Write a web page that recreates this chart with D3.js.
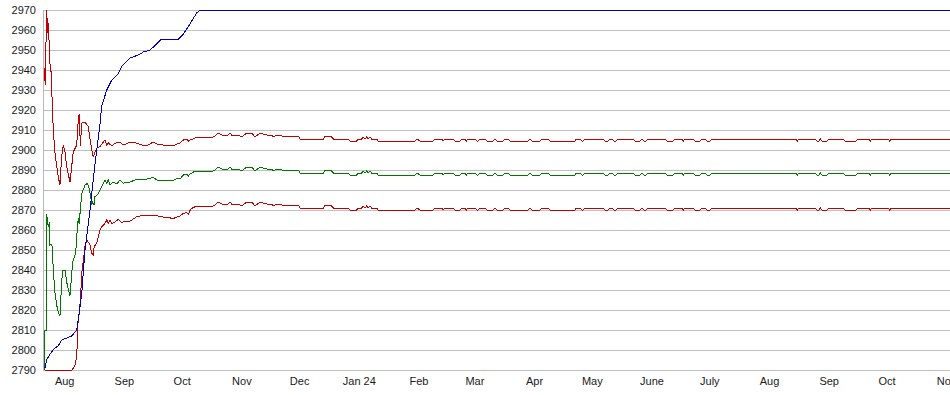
<!DOCTYPE html>
<html><head><meta charset="utf-8">
<script src="https://cdn.jsdelivr.net/npm/d3@7"></script>
<style>
body{margin:0;background:#fff}
svg{display:block}
text{font-family:Arial,"Liberation Sans",sans-serif;font-size:11px;fill:#1a1a1a}
</style></head>
<body><svg id="c" width="950" height="395"></svg>
<script>
// ---------- data ----------
const startDay = "2023-07-21";      // day 0 of the series
const endDay = 471;                 // last day shown
const yTicks = [2790,2800,2810,2820,2830,2840,2850,2860,2870,2880,2890,2900,2910,2920,2930,2940,2950,2960,2970];
const monthStarts = ["2023-08-01","2023-09-01","2023-10-01","2023-11-01","2023-12-01","2024-01-01","2024-02-01","2024-03-01","2024-04-01","2024-05-01","2024-06-01","2024-07-01","2024-08-01","2024-09-01","2024-10-01","2024-11-01"];
const monthLabels = ["Aug","Sep","Oct","Nov","Dec","Jan 24","Feb","Mar","Apr","May","June","July","Aug","Sep","Oct","Nov"];

// [day, value]
const bluePts = [[1.0,2791],[1.9,2795],[3.6,2798],[6.2,2801],[7.9,2802],[9.7,2805],[12.3,2806],[14.9,2807],[17.5,2810],[18.7,2818],[20.1,2828],[21.0,2840],[21.8,2850],[24.4,2870],[26.1,2885],[27.0,2893],[29.6,2913],[30.5,2922],[33.1,2930],[35.7,2935],[39.1,2938],[40.9,2942],[45.2,2946],[49.5,2947.5],[52.1,2949],[55.6,2950],[59.0,2953],[61.6,2955.5],[70.3,2955.5],[72.9,2958],[76.3,2963],[79.8,2968.5],[81.5,2970],[471,2970]];

const upperEarly = [[0.9,2941],[1.1,2932.5],[1.9,2970],[2.4,2958.5],[2.75,2963.5],[3.3,2951],[3.6,2943.5],[4.2,2939],[4.5,2931],[5.0,2918.5],[5.35,2910],[6.2,2898.5],[7.9,2886.7],[8.8,2882.5],[9.7,2896.7],[10.5,2902.5],[11.4,2899],[12.3,2891.7],[14.0,2884],[14.9,2891.7],[15.7,2899],[17.5,2902.5],[18.3,2915],[18.8,2918],[19.4,2902],[20.1,2913.5],[21.8,2914],[23.5,2911.7],[25.3,2900],[26.1,2896.7],[27.0,2899],[27.9,2901],[29.6,2901.7],[32.2,2905],[33.1,2902.5],[33.9,2903.7],[35.7,2902],[37.4,2903.3],[40.0,2904],[41.7,2902.5],[44.3,2903.5],[47.8,2903.7],[51.3,2902.5],[54.7,2902.5],[57.3,2904],[59.0,2903],[62.5,2902.5],[68.5,2902.5],[71.1,2903.5],[72.9,2905],[74.6,2905.5],[75.5,2904.5],[76.3,2905],[78.1,2905.5]];

const midEarly = [[0.9,2790],[1.0,2810],[1.6,2810],[1.9,2868],[2.75,2861.5],[3.3,2864],[3.6,2852.5],[4.5,2853],[4.8,2851],[5.35,2840],[6.2,2829],[7.0,2823],[7.9,2819],[8.8,2817],[9.7,2834],[10.2,2840],[11.4,2840],[12.3,2834],[13.2,2830],[14.0,2827],[14.5,2833],[15.4,2844],[16.6,2847.5],[17.1,2850],[17.5,2856.7],[18.3,2866],[18.8,2863],[19.2,2868],[20.1,2878],[21.8,2882.5],[23.0,2883.3],[24.0,2880.8],[24.8,2876.7],[25.3,2872.5],[25.8,2874],[26.5,2872.5],[27.0,2876.7],[28.7,2878],[30.5,2881.7],[32.2,2885],[33.1,2883.3],[33.9,2885],[34.8,2882.5],[36.5,2884],[38.3,2883],[40.0,2885],[41.7,2883.3],[43.5,2884],[45.2,2884],[47.8,2885],[49.5,2885.3],[52.1,2885],[57.3,2886.3],[59.0,2885],[67.7,2884.7],[69.4,2885.8],[71.1,2885.5],[72.9,2887.5],[74.6,2888],[75.5,2887],[76.3,2888],[78.1,2889]];

const lowerEarly = [[1.0,2790],[15.1,2790],[16.6,2792.5],[17.5,2797],[17.8,2803],[18.3,2816.7],[18.8,2817.5],[19.6,2828],[20.1,2838],[21.0,2845],[21.8,2852],[22.7,2855],[23.5,2854],[24.4,2852.5],[25.3,2848.3],[26.1,2847.5],[26.6,2851.7],[27.9,2853.3],[28.7,2856.7],[29.6,2860],[30.5,2861.7],[32.2,2863.3],[33.1,2865],[33.9,2863.3],[34.8,2865],[35.7,2863.3],[37.4,2864],[39.1,2865.3],[40.9,2863.7],[42.6,2864.5],[44.3,2864],[46.1,2865],[48.7,2866.7],[50.4,2867],[57.3,2867.5],[60.8,2866.7],[67.7,2865.8],[71.1,2867],[72.9,2868.3],[74.6,2868.8],[75.5,2867.8],[76.3,2869.7],[77.2,2870.8]];

const lateDays = [
 79.8,88.4,89.3,91.0,92.8,96.2,97.1,98.0,101.4,103.2,
 105.8,108.4,110.1,112.7,114.4,116.2,118.8,119.6,121.4,124.0,
 132.6,133.5,145.6,146.4,149.9,150.8,158.5,159.4,162.9,163.7,
 165.5,166.3,167.2,168.1,168.9,169.8,170.7,173.3,174.1,193.2,
 194.2,195.8,202.5,203.6,207.2,207.7,208.8,212.9,213.9,216.5,
 217.6,219.1,219.9,220.7,224.3,225.4,225.9,226.9,229.5,230.6,
 233.7,234.7,235.8,238.9,239.9,241.5,242.5,251.9,252.9,253.9,
 258.1,259.1,262.2,263.3,276.3,276.8,278.9,279.9,280.4,281.5,
 290.8,291.8,293.4,294.4,295.5,296.5,297.6,298.6,306.4,307.4,
 310.0,311.1,312.1,313.1,314.2,323.0,324.0,327.2,328.2,331.8,
 332.6,333.4,337.5,338.6,341.2,342.2,343.8,344.8,346.4,347.4,
 391.0,391.8,392.6,400.9,401.9,403.0,403.7,404.5,407.1,408.2,
 415.4,416.5,422.2,423.2,428.9,429.7,430.5,438.8,439.6,440.4,
 471.0];

const upperLate = [
 2906.5,2906.5,2907,2908.5,2907.5,2907.5,2908.5,2907.5,2907.5,2906.5,
 2908.5,2908.5,2906.5,2908.5,2908,2907.5,2907.5,2906.5,2907.5,2907,
 2907,2905.5,2905.5,2907,2906.5,2905.5,2905.5,2904.5,2904.5,2905.5,
 2905.5,2906.5,2905.5,2906.5,2905.5,2906.5,2905.5,2905.5,2904.5,2904.5,
 2905.5,2904.5,2904.5,2905.5,2905.5,2904.5,2905.5,2905.5,2904.5,2904.5,
 2905.5,2905.5,2904.5,2905.5,2905.5,2904.5,2904.5,2905.5,2905.5,2904.5,
 2904.5,2905.5,2904.5,2904.5,2905.5,2905.5,2904.5,2904.5,2905.5,2904.5,
 2904.5,2905.5,2905.5,2904.5,2904.5,2905.5,2905.5,2904.5,2904.5,2905.5,
 2905.5,2904.5,2904.5,2905.5,2905.5,2904.5,2904.5,2905.5,2905.5,2904.5,
 2904.5,2905.5,2904.5,2904.5,2905.5,2905.5,2904.5,2904.5,2905.5,2905.5,
 2904.5,2905.5,2905.5,2904.5,2904.5,2905.5,2905.5,2904.5,2904.5,2905.5,
 2905.5,2904.5,2905.5,2905.5,2904.5,2904.5,2905.5,2904.5,2904.5,2905.5,
 2905.5,2904.5,2904.5,2905.5,2905.5,2904.5,2905.5,2905.5,2904.5,2905.5,
 2905.5];

const midLate = [
 2889.5,2889.5,2890,2891.5,2890.5,2890.5,2891.5,2890.5,2890.5,2889.5,
 2891.5,2891.5,2889.5,2891.5,2891,2890.5,2890.5,2889.5,2890.5,2890,
 2890,2888.5,2888.5,2890,2889.5,2888.5,2888.5,2887.5,2887.5,2888.5,
 2888.5,2889.5,2888.5,2889.5,2888.5,2889.5,2888.5,2888.5,2887.5,2887.5,
 2888.5,2887.5,2887.5,2888.5,2888.5,2887.5,2888.5,2888.5,2887.5,2887.5,
 2888.5,2888.5,2887.5,2888.5,2888.5,2887.5,2887.5,2888.5,2888.5,2887.5,
 2887.5,2888.5,2887.5,2887.5,2888.5,2888.5,2887.5,2887.5,2888.5,2887.5,
 2887.5,2888.5,2888.5,2887.5,2887.5,2888.5,2888.5,2887.5,2887.5,2888.5,
 2888.5,2887.5,2887.5,2888.5,2888.5,2887.5,2887.5,2888.5,2888.5,2887.5,
 2887.5,2888.5,2887.5,2887.5,2888.5,2888.5,2887.5,2887.5,2888.5,2888.5,
 2887.5,2888.5,2888.5,2887.5,2887.5,2888.5,2888.5,2887.5,2887.5,2888.5,
 2888.5,2887.5,2888.5,2888.5,2887.5,2887.5,2888.5,2887.5,2887.5,2888.5,
 2888.5,2887.5,2887.5,2888.5,2888.5,2887.5,2888.5,2888.5,2887.5,2888.5,
 2888.5];

const lowerLate = [
 2872,2872,2872.5,2874,2873,2873,2874,2873,2873,2872,
 2874,2874,2872,2874,2873.5,2873,2873,2872,2873,2872.5,
 2872.5,2871,2871,2872.5,2872,2871,2871,2870,2870,2871,
 2871,2872,2871,2872,2871,2872,2871,2871,2870,2870,
 2871,2870,2870,2871,2871,2870,2871,2871,2870,2870,
 2871,2871,2870,2871,2871,2870,2870,2871,2871,2870,
 2870,2871,2870,2870,2871,2871,2870,2870,2871,2870,
 2870,2871,2871,2870,2870,2871,2871,2870,2870,2871,
 2871,2870,2870,2871,2871,2870,2870,2871,2871,2870,
 2870,2871,2870,2870,2871,2871,2870,2870,2871,2871,
 2870,2871,2871,2870,2870,2871,2871,2870,2870,2871,
 2871,2870,2871,2871,2870,2870,2871,2870,2870,2871,
 2871,2870,2870,2871,2871,2870,2871,2871,2870,2871,
 2871];

// ---------- chart ----------
const W = 950, H = 395;
const M = {left:43, right:0, top:10, bottom:25};
const svg = d3.select("#c");
svg.append("rect").attr("width",W).attr("height",H).attr("fill","#fff");

const t0 = Date.parse(startDay + "T00:00:00Z");
const dayDate = d => new Date(t0 + d*864e5);
const x = d3.scaleUtc().domain([dayDate(0), dayDate(endDay)]).range([M.left, W - M.right]);
const y = d3.scaleLinear().domain([yTicks[0], yTicks[yTicks.length-1]]).range([H - M.bottom, M.top]);

// grid + y labels
const gy = svg.append("g").attr("transform",`translate(${M.left},0)`)
  .call(d3.axisLeft(y).tickValues(yTicks).tickFormat(d3.format("d")).tickSize(-(W - M.left - M.right)).tickPadding(7));
gy.select(".domain").remove();
gy.selectAll(".tick line").attr("stroke","#c0c0c0").attr("shape-rendering","crispEdges");
gy.selectAll(".tick text").attr("fill","#1a1a1a").style("font-size","11px").attr("font-family",null);

// left axis line
svg.append("line").attr("x1",M.left+0.5).attr("x2",M.left+0.5)
  .attr("y1",y(yTicks[yTicks.length-1])).attr("y2",y(yTicks[0]))
  .attr("stroke","#b8b8b8").attr("shape-rendering","crispEdges");

// x axis labels
const gx = svg.append("g").attr("transform",`translate(0,${y(yTicks[0])})`)
  .call(d3.axisBottom(x).tickValues(monthStarts.map(s => new Date(s + "T00:00:00Z")))
    .tickFormat((d,i) => monthLabels[i]).tickSize(0).tickPadding(7));
gx.select(".domain").remove();
gx.selectAll(".tick text").attr("fill","#1a1a1a").style("font-size","11px").attr("font-family",null);

// series
const line = d3.line().x(d => x(dayDate(d[0]))).y(d => y(d[1]));
const series = [
  {pts: lowerEarly.concat(lateDays.map((d,i)=>[d, lowerLate[i]])), color:"#c00000"},
  {pts: midEarly.concat(lateDays.map((d,i)=>[d, midLate[i]])), color:"#007800"},
  {pts: upperEarly.concat(lateDays.map((d,i)=>[d, upperLate[i]])), color:"#c00000"},
  {pts: bluePts, color:"#0000b8"}
];
svg.selectAll("path.s").data(series).join("path").attr("class","s")
  .attr("d", s => line(s.pts)).attr("fill","none").attr("stroke", s => s.color)
  .attr("stroke-width",1).attr("shape-rendering","crispEdges");
</script></body></html>
